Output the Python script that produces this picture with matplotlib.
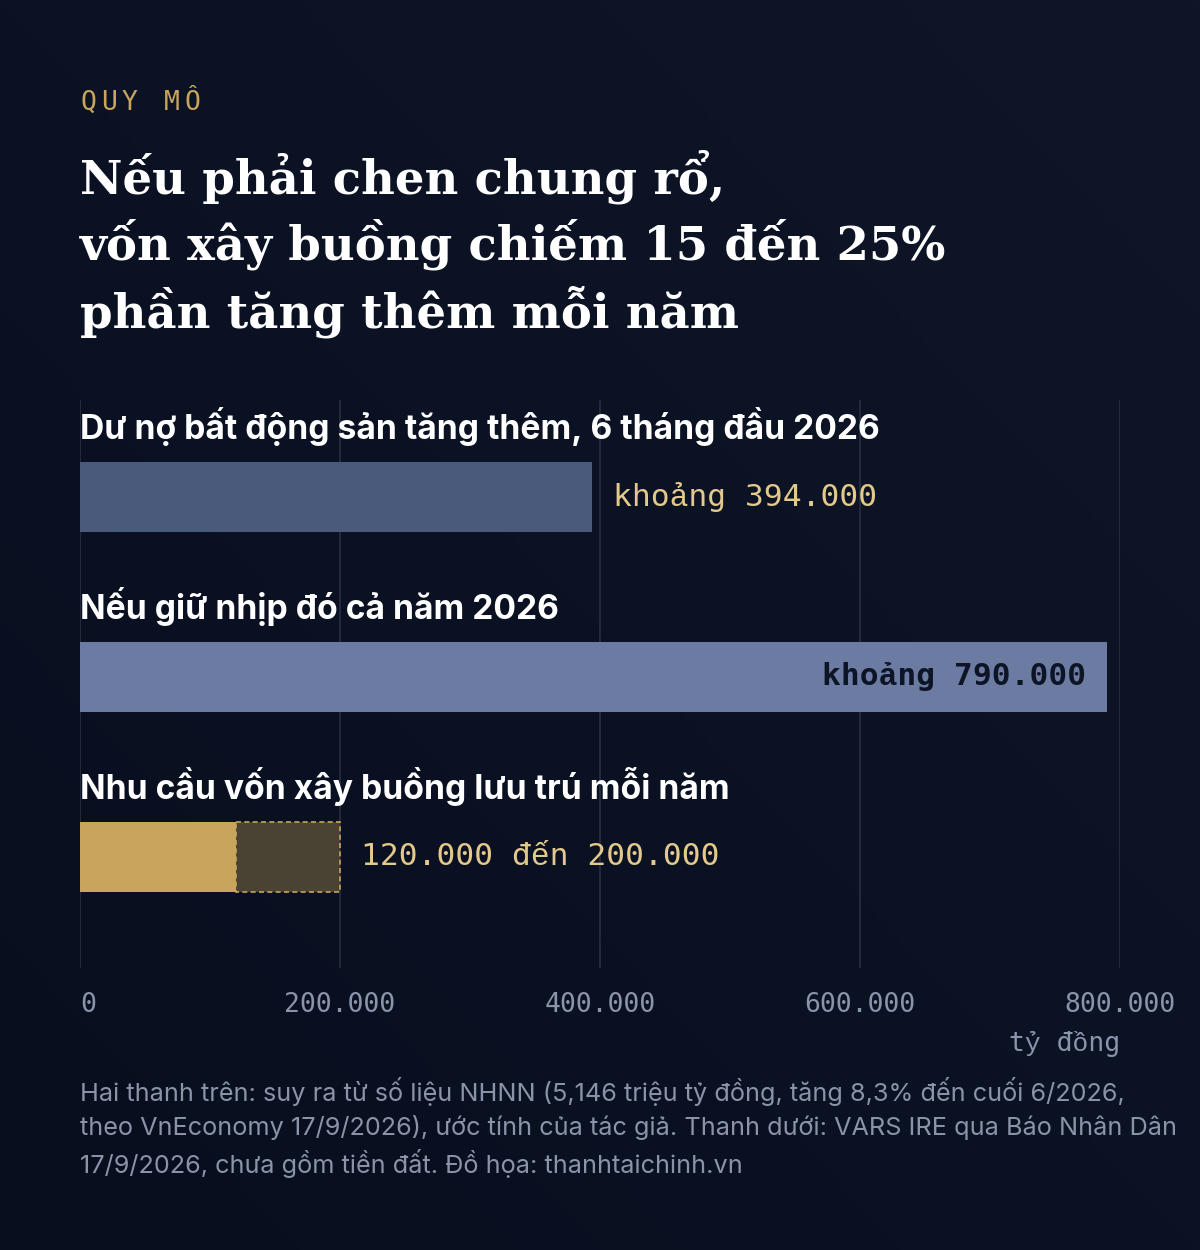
import matplotlib.pyplot as plt
import numpy as np
from matplotlib.colors import LinearSegmentedColormap

# data
categories = ["Dư nợ bất động sản tăng thêm, 6 tháng đầu 2026",
              "Nếu giữ nhịp đó cả năm 2026",
              "Nhu cầu vốn xây buồng lưu trú mỗi năm"]
values = [394000, 790000, 120000]
range_low = 120000
range_high = 200000
value_labels = ["khoảng 394.000", "khoảng 790.000", "120.000 đến 200.000"]
ticks = [0, 200000, 400000, 600000, 800000]
tick_labels = ["0", "200.000", "400.000", "600.000", "800.000"]

kicker = "QUY MÔ"
title_lines = ["Nếu phải chen chung rổ,",
               "vốn xây buồng chiếm 15 đến 25%",
               "phần tăng thêm mỗi năm"]
note_lines = ["Hai thanh trên: suy ra từ số liệu NHNN (5,146 triệu tỷ đồng, tăng 8,3% đến cuối 6/2026,",
              "theo VnEconomy 17/9/2026), ước tính của tác giả. Thanh dưới: VARS IRE qua Báo Nhân Dân",
              "17/9/2026, chưa gồm tiền đất. Đồ họa: thanhtaichinh.vn"]

W, H = 1200, 1250
GOLD = "#e3c98c"
GREY = "#8a94aa"
MONO = ["DejaVu Sans Mono", "Liberation Mono"]
SANS = "Inter"


def px(x, y):
    return x / W, 1 - y / H


fig = plt.figure(figsize=(12, 12.5), dpi=100)

# background gradient
bg = fig.add_axes([0, 0, 1, 1], zorder=-1)
cmap = LinearSegmentedColormap.from_list("bg", ["#080e1d", "#0b1224", "#0e1628"])
gx, gy = np.meshgrid(np.linspace(0, 1, 200), np.linspace(0, 1, 200))
bg.imshow((gx + (1 - gy)) / 2, cmap=cmap, aspect="auto", extent=[0, 1, 0, 1], origin="upper")
bg.axis("off")

# kicker, spaced letters
for k, ch in enumerate(kicker):
    fig.text(*px(80 + k * 21, 110), ch, fontsize=19, family=MONO, color="#c9a45c", va="baseline")

# title
for line, yb in zip(title_lines, [193, 260, 327]):
    fig.text(*px(80, yb), line, fontsize=33.5, family="DejaVu Serif", fontweight="bold",
             color="white", va="baseline")

# main axes
ax = fig.add_axes([80 / W, 1 - 968 / H, 1040 / W, 568 / H])
ax.set_facecolor("none")
ax.set_xlim(0, 800000)
ax.set_ylim(2.617, -0.539)
for s in ax.spines.values():
    s.set_visible(False)
ax.set_xticks(ticks)
ax.set_xticklabels(tick_labels, family=MONO, fontsize=19, color=GREY)
ax.tick_params(axis="x", length=0, pad=17)
ax.tick_params(axis="y", left=False, labelleft=False)
ax.get_xticklabels()[0].set_ha("left")
ax.grid(axis="x", color="#262e40", lw=1.2)
ax.set_axisbelow(True)

bar_h = 0.389
colors = ["#4a5a7a", "#6b7ba1", "#c9a45c"]
pos = np.arange(len(categories))
ax.barh(pos, values, height=bar_h, color=colors, zorder=2)
ax.barh(2, range_high - range_low, left=range_low, height=bar_h, facecolor="#4a4233",
        edgecolor="#c9a45c", linestyle=(0, (3, 2)), lw=1.2, zorder=2)

for i, cat in enumerate(categories):
    ax.text(0, i - 0.389, cat, fontsize=24.2, family=SANS, fontweight="bold",
            color="white", va="center", ha="left")

ax.annotate(value_labels[0], (values[0], 0), xytext=(15, 0), textcoords="offset points",
            va="center", ha="left", fontsize=22.5, family=MONO, color=GOLD)
ax.annotate(value_labels[1], (values[1], 1), xytext=(-15, 0), textcoords="offset points",
            va="center", ha="right", fontsize=22.5, family=MONO, fontweight="bold", color="#0d1426")
ax.annotate(value_labels[2], (range_high, 2), xytext=(15, 0), textcoords="offset points",
            va="center", ha="left", fontsize=22.5, family=MONO, color=GOLD)

fig.text(*px(1120, 1044), "tỷ đồng", fontsize=19, family=MONO, color=GREY, ha="right", va="center")

for line, yc in zip(note_lines, [1091, 1127, 1163]):
    fig.text(*px(80, yc), line, fontsize=18.2, family=SANS, color="#8a93a8", va="center")

fig.savefig("out.png", dpi=100)
